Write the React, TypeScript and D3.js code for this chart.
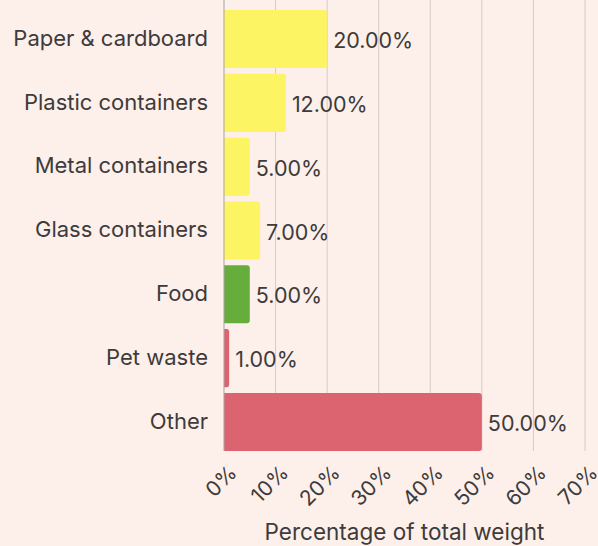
import React from "react";
import * as d3 from "d3";

const categories = ["Paper & cardboard", "Plastic containers", "Metal containers", "Glass containers", "Food", "Pet waste", "Other"];
const values = [20, 12, 5, 7, 5, 1, 50];
const groups = ["recyclable", "recyclable", "recyclable", "recyclable", "compost", "landfill", "landfill"];
const xTicks = [0, 10, 20, 30, 40, 50, 60, 70];
const axisTitle = "Percentage of total weight";

const W = 598, H = 546;
const left = 224, right = 585, top = 10, bottom = 451;
const FONT = "Inter, 'Noto Sans', sans-serif";
const TEXT = "#3d3b3b";

export default function App() {
  const x = d3.scaleLinear().domain([0, 70]).range([left, right]);
  const y = d3.scaleBand<string>().domain(categories).range([top, bottom]).paddingInner(0.09).paddingOuter(0);
  const color = d3.scaleOrdinal<string, string>().domain(["recyclable", "compost", "landfill"]).range(["#fcf462", "#66ad3b", "#dc6470"]);
  const r = 3;
  const barPath = (x0: number, x1: number, y0: number, h: number) => {
    const w = x1 - x0;
    const rr = Math.min(r, w / 2);
    return `M${x0},${y0}H${x1 - rr}Q${x1},${y0} ${x1},${y0 + rr}V${y0 + h - rr}Q${x1},${y0 + h} ${x1 - rr},${y0 + h}H${x0}Z`;
  };
  return (
    <svg width={W} height={H} style={{ position: "absolute", left: 0, top: 0, background: "#fdefe9" }} fontFamily={FONT}>
      <rect width={W} height={H} fill="#fdefe9" />
      {xTicks.slice(1).map((t) => (
        <line key={t} x1={x(t)} x2={x(t)} y1={0} y2={451} stroke="#dbc9c4" strokeWidth={1} />
      ))}
      {categories.map((c, i) => (
        <g key={c}>
          <path d={barPath(x(0), x(values[i]), y(c)!, y.bandwidth())} fill={color(groups[i])} />
          <text x={left - 16} y={y(c)! + y.bandwidth() / 2 - 1} dy="0.35em" textAnchor="end" fontSize={22} fill={TEXT}>{c}</text>
          <text x={x(values[i]) + 6} y={y(c)! + y.bandwidth() / 2 + 1.5} dy="0.35em" fontSize={21.5} fill={TEXT}>{values[i].toFixed(2) + "%"}</text>
        </g>
      ))}
      <line x1={left} x2={left} y1={0} y2={451} stroke="#a9a3a3" strokeWidth={1} />
      {xTicks.map((t) => (
        <text key={t} transform={`translate(${x(t) + 9},${469}) rotate(-45)`} textAnchor="end" dy="0.35em" fontSize={21} fill={TEXT}>{t + "%"}</text>
      ))}
      <text x={(left + right) / 2} y={532} dy="0.35em" textAnchor="middle" fontSize={22.5} fill={TEXT}>{axisTitle}</text>
    </svg>
  );
}
